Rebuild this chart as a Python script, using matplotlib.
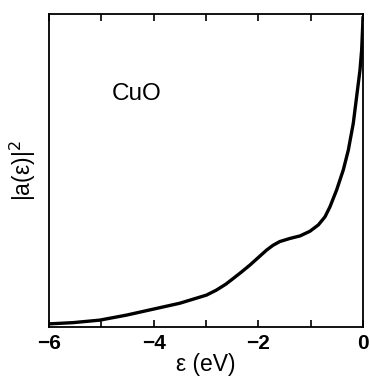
import numpy as np
import matplotlib
matplotlib.use("Agg")
import matplotlib.pyplot as plt

# Energy (eV) and |a(eps)|^2 (relative units)
energy = [-6.0, -5.54, -5.03, -4.52, -4.01, -3.50, -2.99, -2.80, -2.62, -2.48,
          -2.32, -2.16, -2.00, -1.84, -1.72, -1.59, -1.395, -1.204, -1.013,
          -0.854, -0.726, -0.631, -0.503, -0.376, -0.280, -0.185, -0.121,
          -0.057, -0.025, -0.006, 0.0]
weight = [0.010, 0.014, 0.022, 0.038, 0.057, 0.076, 0.102, 0.118, 0.137, 0.155,
          0.176, 0.198, 0.222, 0.246, 0.261, 0.273, 0.283, 0.291, 0.306,
          0.326, 0.352, 0.384, 0.438, 0.502, 0.565, 0.651, 0.736,
          0.821, 0.885, 0.959, 0.99]

major_ticks = [-6, -4, -2, 0]
major_labels = ["\u22126", "\u22124", "\u22122", "0"]
minor_ticks = [-5, -3, -1]

plt.rcParams['font.family'] = ['Liberation Sans', 'DejaVu Sans']

fig = plt.figure(figsize=(3.70, 3.86), dpi=100)
ax = fig.add_axes([0.1324, 0.1528, 0.8486, 0.8109])

ax.plot(energy, weight, color='black', lw=2.4,
        solid_capstyle='round', solid_joinstyle='round')

ax.set_xlim(-6, 0)
ax.set_ylim(0, 1.0)

ax.set_xticks(major_ticks)
ax.set_xticklabels(major_labels, fontsize=15, fontweight='bold')
ax.set_xticks(minor_ticks, minor=True)
ax.set_yticks([])
ax.tick_params(axis='x', which='both', direction='in', length=5, width=1.2,
               top=True, bottom=True, pad=5)
for s in ax.spines.values():
    s.set_linewidth(1.3)

ax.set_xlabel("ε (eV)", fontsize=16.5, labelpad=0)
ax.set_ylabel("|a(ε)|$^{2}$", fontsize=16.5, labelpad=8)

ax.text(0.199, 0.745, "CuO", transform=ax.transAxes, fontsize=17.5,
        ha='left', va='center')

fig.savefig("out.png", dpi=100)
